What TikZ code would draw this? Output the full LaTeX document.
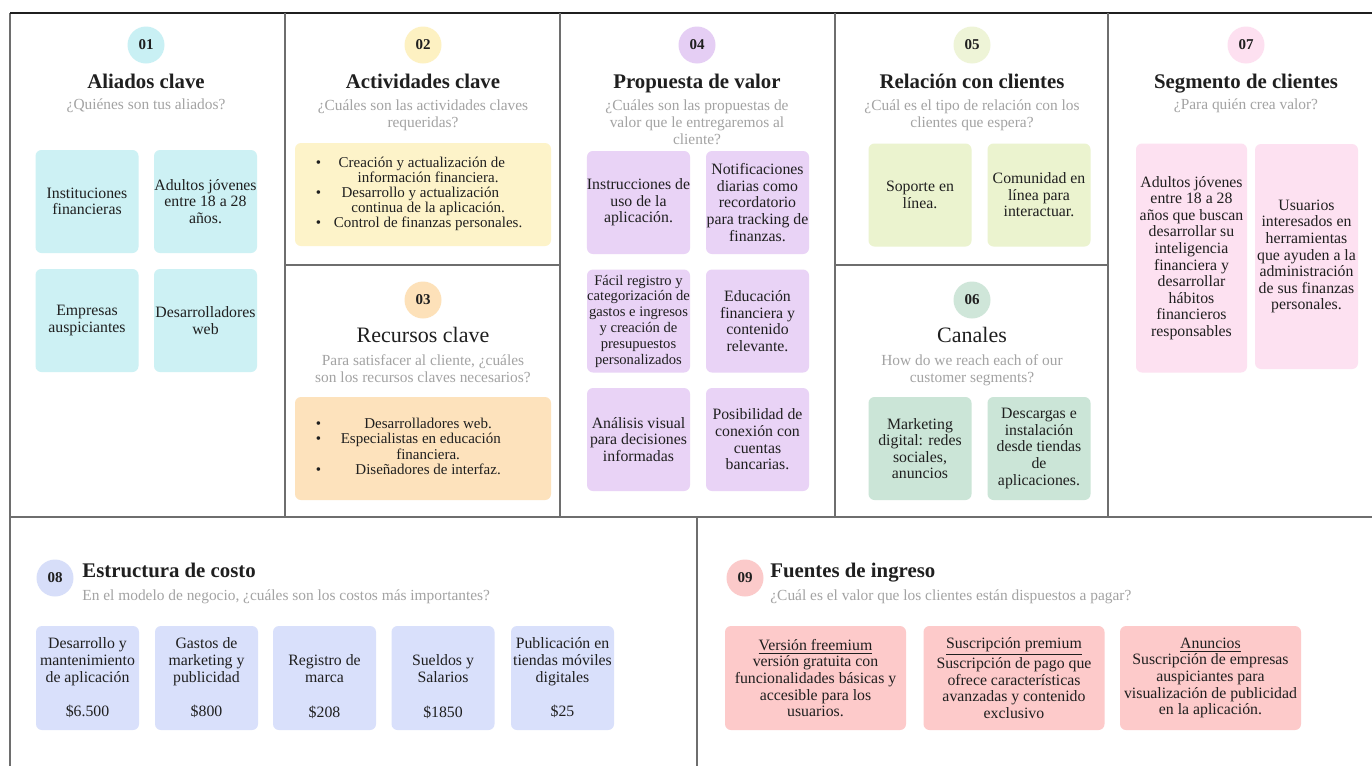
\documentclass[tikz,border=0pt]{standalone}
\usepackage{fontspec}
\setmainfont{Liberation Serif}
\usepackage{array}
\definecolor{ink}{HTML}{1F1F1F}
\definecolor{qgray}{HTML}{A3A3A3}
\definecolor{lgray}{HTML}{6E6E6E}
\definecolor{c01}{HTML}{C9F0F4}\definecolor{b01}{HTML}{CDF1F4}
\definecolor{c02}{HTML}{FDF1C2}\definecolor{b02}{HTML}{FDF3C9}
\definecolor{c03}{HTML}{FDE1B9}\definecolor{b03}{HTML}{FDE2BC}
\definecolor{c04}{HTML}{E5CEF4}\definecolor{b04}{HTML}{E9D3F6}
\definecolor{c05}{HTML}{EEF4D7}\definecolor{b05}{HTML}{EBF3CF}
\definecolor{c06}{HTML}{CFE6D9}\definecolor{b06}{HTML}{CBE5D7}
\definecolor{c07}{HTML}{FDE0F0}\definecolor{b07}{HTML}{FDE1F1}
\definecolor{c08}{HTML}{D7DEF9}\definecolor{b08}{HTML}{D9E0FB}
\definecolor{c09}{HTML}{FBCACA}\definecolor{b09}{HTML}{FDCACA}
\begin{document}
\begin{tikzpicture}[x=0.5pt,y=-0.5pt,
    num/.style={circle,fill=#1,minimum size=18.5pt,inner sep=0pt,text=ink,font=\bfseries\fontsize{7.5}{9}\selectfont},
    ttl/.style={anchor=base,inner sep=0pt,text=ink,font=\bfseries\fontsize{10.4}{12}\selectfont},
    ttlr/.style={anchor=base,inner sep=0pt,text=ink,font=\fontsize{11}{13}\selectfont},
    qst/.style={anchor=north,align=center,inner sep=0pt,text=qgray,font=\fontsize{7.7}{8.7}\selectfont},
    card/.style={fill=#1,rounded corners=3pt,minimum width=51.5pt,minimum height=51.5pt,inner sep=0pt,align=center,text=ink,font=\fontsize{7.9}{8.3}\selectfont},
    lst/.style={card=#1,minimum width=128pt,font=\fontsize{7.5}{7.6}\selectfont}]
    \useasboundingbox (0,0) rectangle (1372,766);
    \fill[white] (0,0) rectangle (1372,766);
    % frame
    \begin{scope}[every path/.style={draw=lgray,line width=0.75pt}]
        \draw (10,766) -- (10,13);
        \draw[draw=ink,line width=1pt] (10,13) -- (1372,13);
        \draw (285,13) -- (285,517);
        \draw (560,13) -- (560,517);
        \draw (835,13) -- (835,517);
        \draw (1108,13) -- (1108,517);
        \draw (285,265) -- (560,265);
        \draw (835,265) -- (1108,265);
        \draw (10,517) -- (1372,517);
        \draw (697,517) -- (697,766);
    \end{scope}
    % 01 aliados
    \node[num=c01] (N1) at (146,45) {01};
    \node[ttl] (T1) at (146,88) {Aliados clave};
    \node[qst] (Q1) at (146,98) {¿Quiénes son tus aliados?};
    \begin{scope}[every node/.style={card=b01}]
        \node (A1) at (87,201.5) {Instituciones\\financieras};
        \node (A2) at (205.5,201.5) {Adultos jóvenes\\entre 18 a 28\\años.};
        \node (A3) at (87,320.5) {Empresas\\auspiciantes};
        \node (A4) at (205.5,320.5) {Desarrolladores\\web};
    \end{scope}
    % 02 actividades
    \node[num=c02] (N2) at (423,45) {02};
    \node[ttl] (T2) at (423,88) {Actividades clave};
    \node[qst] (Q2) at (423,99) {¿Cuáles son las actividades claves\\requeridas?};
    \node[lst=b02] (B1) at (423,194.5) {\begin{tabular}{@{}c@{\hspace{2.5pt}}>{\centering\arraybackslash}p{102pt}@{}}
        \textbullet & Creación y actualización de\newline información financiera.\\
        \textbullet & Desarrollo y actualización\newline continua de la aplicación.\\
        \textbullet & Control de finanzas personales.
    \end{tabular}};
    % 03 recursos
    \node[num=c03] (N3) at (423,300) {03};
    \node[ttlr] (T3) at (423,342) {Recursos clave};
    \node[qst] (Q3) at (423,354) {Para satisfacer al cliente, ¿cuáles\\son los recursos claves necesarios?};
    \node[lst=b03] (B2) at (423,448.5) {\begin{tabular}{@{}c@{\hspace{2.5pt}}>{\centering\arraybackslash}p{102pt}@{}}
        \textbullet & Desarrolladores web.\\
        \textbullet & Especialistas en educación\newline financiera.\\
        \textbullet & Diseñadores de interfaz.
    \end{tabular}};
    % 04 propuesta
    \node[num=c04] (N4) at (697,45) {04};
    \node[ttl] (T4) at (697,88) {Propuesta de valor};
    \node[qst] (Q4) at (697,99) {¿Cuáles son las propuestas de\\valor que le entregaremos al\\cliente?};
    \begin{scope}[every node/.style={card=b04}]
        \node (P1) at (638.5,202.5) {Instrucciones de\\uso de la\\aplicación.};
        \node (P2) at (757.5,202.5) {Notificaciones\\diarias como\\recordatorio\\para tracking de\\finanzas.};
        \node[font=\fontsize{7.3}{7.9}\selectfont] (P3) at (638.5,321) {Fácil registro y\\categorización de\\gastos e ingresos\\y creación de\\presupuestos\\personalizados};
        \node (P4) at (757.5,321) {Educación\\financiera y\\contenido\\relevante.};
        \node (P5) at (638.5,439.5) {Análisis visual\\para decisiones\\informadas};
        \node (P6) at (757.5,439.5) {Posibilidad de\\conexión con\\cuentas\\bancarias.};
    \end{scope}
    % 05 relacion
    \node[num=c05] (N5) at (972,45) {05};
    \node[ttl] (T5) at (972,88) {Relación con clientes};
    \node[qst] (Q5) at (972,99) {¿Cuál es el tipo de relación con los\\clientes que espera?};
    \begin{scope}[every node/.style={card=b05}]
        \node (R1) at (920,195) {Soporte en\\línea.};
        \node (R2) at (1039,195) {Comunidad en\\línea para\\interactuar.};
    \end{scope}
    % 06 canales
    \node[num=c06] (N6) at (972,300) {06};
    \node[ttlr] (T6) at (972,342) {Canales};
    \node[qst] (Q6) at (972,354) {How do we reach each of our\\customer segments?};
    \begin{scope}[every node/.style={card=b06}]
        \node (K1) at (920,448.5) {Marketing\\digital: redes\\sociales,\\anuncios};
        \node (K2) at (1039,448.5) {Descargas e\\instalación\\desde tiendas\\de\\aplicaciones.};
    \end{scope}
    % 07 segmento
    \node[num=c07] (N7) at (1246,45) {07};
    \node[ttl] (T7) at (1246,88) {Segmento de clientes};
    \node[qst] (Q7) at (1246,98) {¿Para quién crea valor?};
    \begin{scope}[every node/.style={card=b07}]
        \node[minimum width=55.5pt,minimum height=114.5pt] (S1) at (1191.5,258) {Adultos jóvenes\\entre 18 a 28\\años que buscan\\desarrollar su\\inteligencia\\financiera y\\desarrollar\\hábitos\\financieros\\responsables};
        \node[minimum height=112.5pt] (S2) at (1306.5,256.5) {Usuarios\\interesados en\\herramientas\\que ayuden a la\\administración\\de sus finanzas\\personales.};
    \end{scope}
    % 08 costos
    \node[num=c08] (N8) at (55,578) {08};
    \node[ttl,anchor=base west] (T8) at (82,577) {Estructura de costo};
    \node[qst,anchor=base west] (Q8) at (82,600) {En el modelo de negocio, ¿cuáles son los costos más importantes?};
    \begin{scope}[every node/.style={card=b08,minimum height=52pt}]
        \node (E1) at (87.5,678) {Desarrollo y\\mantenimiento\\de aplicación\\[9pt]\$6.500};
        \node (E2) at (206.5,678) {Gastos de\\marketing y\\publicidad\\[9pt]\$800};
        \node (E3) at (324.5,678) {\strut\\Registro de\\marca\\[9pt]\$208};
        \node (E4) at (443,678) {\strut\\Sueldos y\\Salarios\\[9pt]\$1850};
        \node (E5) at (562.5,678) {Publicación en\\tiendas móviles\\digitales\\[9pt]\$25};
    \end{scope}
    % 09 ingresos
    \node[num=c09] (N9) at (745,578) {09};
    \node[ttl,anchor=base west] (T9) at (770,577) {Fuentes de ingreso};
    \node[qst,anchor=base west] (Q9) at (770,600) {¿Cuál es el valor que los clientes están dispuestos a pagar?};
    \begin{scope}[every node/.style={card=b09,minimum width=90.5pt,minimum height=52pt}]
        \node (F1) at (815.5,678) {\underline{Versión freemium}\\versión gratuita con\\funcionalidades básicas y\\accesible para los\\usuarios.};
        \node (F2) at (1014,678) {\underline{Suscripción premium}\\Suscripción de pago que\\ofrece características\\avanzadas y contenido\\exclusivo};
        \node (F3) at (1210.5,678) {\underline{Anuncios}\\Suscripción de empresas\\auspiciantes para\\visualización de publicidad\\en la aplicación.};
    \end{scope}
\end{tikzpicture}
\end{document}
